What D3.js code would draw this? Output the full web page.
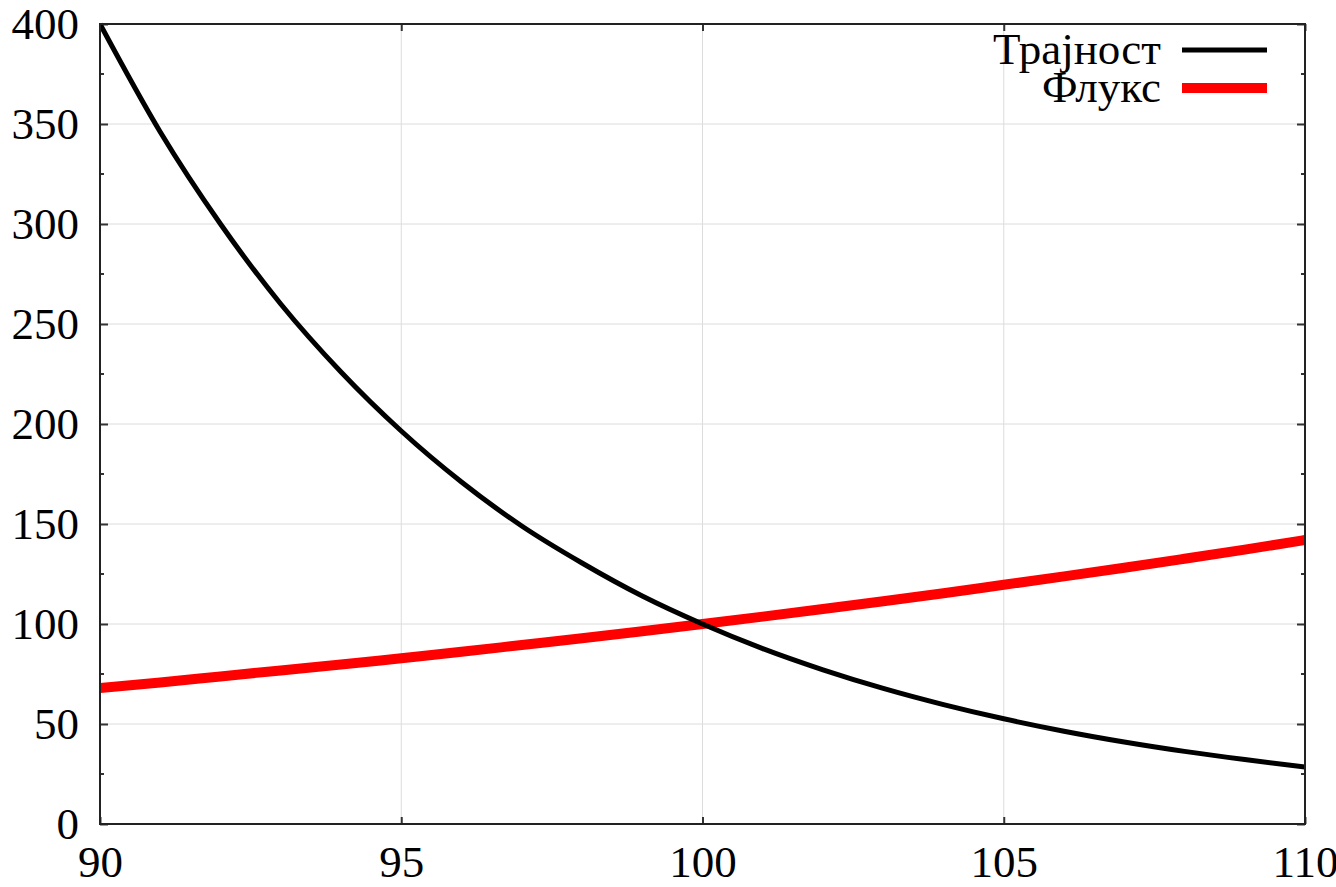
<!DOCTYPE html>
<html><head><meta charset="utf-8">
<script src="https://cdn.jsdelivr.net/npm/d3@7"></script>
<style>
html,body{margin:0;padding:0;background:#fff;}
svg text{font-family:'Liberation Serif','Times New Roman',serif;fill:#000;}
</style></head>
<body>
<svg id="chart" width="1336" height="887"></svg>
<script>
const xValues = [90,91,92,93,94,95,96,97,98,99,100,101,102,103,104,105,106,107,108,109,110];
const durationValues = [400,346,300,260,226,196.5,171,149,130.5,114,100,87.7,77.1,67.8,59.7,52.6,46.4,41,36.3,32.2,28.5];
const fluxValues = [68,70.8,73.8,76.8,79.7,82.9,86.1,89.5,92.9,96.4,100,103.7,107.5,111.4,115.4,119.6,123.8,128.1,132.6,137.2,142];
const seriesNames = ["Трајност","Флукс"];
const seriesColors = ["#000000","#ff0000"];
const xTicks = [90,95,100,105,110];
const yTicks = [0,50,100,150,200,250,300,350,400];
const yMinorTicks = [25,75,125,175,225,275,325,375];

const svg = d3.select("#chart");
const L=100,R=1305,T=24,B=824;
const x = d3.scaleLinear().domain([90,110]).range([L,R]);
const y = d3.scaleLinear().domain([0,400]).range([B,T]);

// grid
svg.append("g").selectAll("line").data(xTicks.slice(1,-1)).join("line")
  .attr("x1",d=>x(d)).attr("x2",d=>x(d)).attr("y1",T).attr("y2",B)
  .attr("stroke","#dcdcdc").attr("stroke-width",1);
svg.append("g").selectAll("line").data(yTicks.slice(1,-1)).join("line")
  .attr("x1",L).attr("x2",R).attr("y1",d=>y(d)).attr("y2",d=>y(d))
  .attr("stroke","#dcdcdc").attr("stroke-width",1);

// axes
const fs = 45;
const yAxisL = d3.axisLeft(y).tickValues(yTicks).tickSize(-8).tickPadding(21).tickFormat(d3.format("d"));
const yAxisR = d3.axisRight(y).tickValues(yTicks).tickSize(-8).tickFormat("");
const xAxisB = d3.axisBottom(x).tickValues(xTicks).tickSize(-7).tickPadding(22).tickFormat(d3.format("d"));
const xAxisT = d3.axisTop(x).tickValues(xTicks).tickSize(-7).tickFormat("");

function style(g){
  g.select(".domain").remove();
  g.selectAll(".tick line").attr("stroke","#333").attr("stroke-width",2);
  g.selectAll("text").attr("font-size",fs).attr("font-family","'Liberation Serif', serif").attr("fill","#000");
}
svg.append("g").attr("transform",`translate(${L},0)`).call(yAxisL).call(style)
  .selectAll("text").attr("dy","0.33em");
svg.append("g").attr("transform",`translate(${R},0)`).call(yAxisR).call(style);
svg.append("g").attr("transform",`translate(0,${B})`).call(xAxisB).call(style)
  .selectAll("text").attr("dy","0.68em");
svg.append("g").attr("transform",`translate(0,${T})`).call(xAxisT).call(style);

// minor y ticks
svg.append("g").selectAll("line").data(yMinorTicks).join("line")
  .attr("x1",L).attr("x2",L+4).attr("y1",d=>y(d)).attr("y2",d=>y(d))
  .attr("stroke","#333").attr("stroke-width",2);
svg.append("g").selectAll("line").data(yMinorTicks).join("line")
  .attr("x1",R-4).attr("x2",R).attr("y1",d=>y(d)).attr("y2",d=>y(d))
  .attr("stroke","#333").attr("stroke-width",2);

// clip
svg.append("clipPath").attr("id","clip").append("rect")
  .attr("x",L).attr("y",T-6).attr("width",R-L).attr("height",B-T+6);

const line = d3.line().x(d=>x(d[0])).y(d=>y(d[1])).curve(d3.curveMonotoneX);
const plot = svg.append("g").attr("clip-path","url(#clip)");
plot.append("path").datum(xValues.map((v,i)=>[v,fluxValues[i]]))
  .attr("d",line).attr("fill","none").attr("stroke",seriesColors[1]).attr("stroke-width",10);
plot.append("path").datum(xValues.map((v,i)=>[v,durationValues[i]]))
  .attr("d",line).attr("fill","none").attr("stroke",seriesColors[0]).attr("stroke-width",5);

// frame
svg.append("rect").attr("x",L).attr("y",T).attr("width",R-L).attr("height",B-T)
  .attr("fill","none").attr("stroke","#222").attr("stroke-width",2);

// legend
const leg = svg.append("g");
const legY = [50,88];
const legW = [5,10];
seriesNames.forEach((n,i)=>{
  leg.append("text").attr("x",1161).attr("y",legY[i]+14).attr("text-anchor","end")
    .attr("font-size",fs).text(n);
  leg.append("line").attr("x1",1182).attr("x2",1267).attr("y1",legY[i]).attr("y2",legY[i])
    .attr("stroke",seriesColors[i]).attr("stroke-width",legW[i]);
});
</script>
</body></html>
